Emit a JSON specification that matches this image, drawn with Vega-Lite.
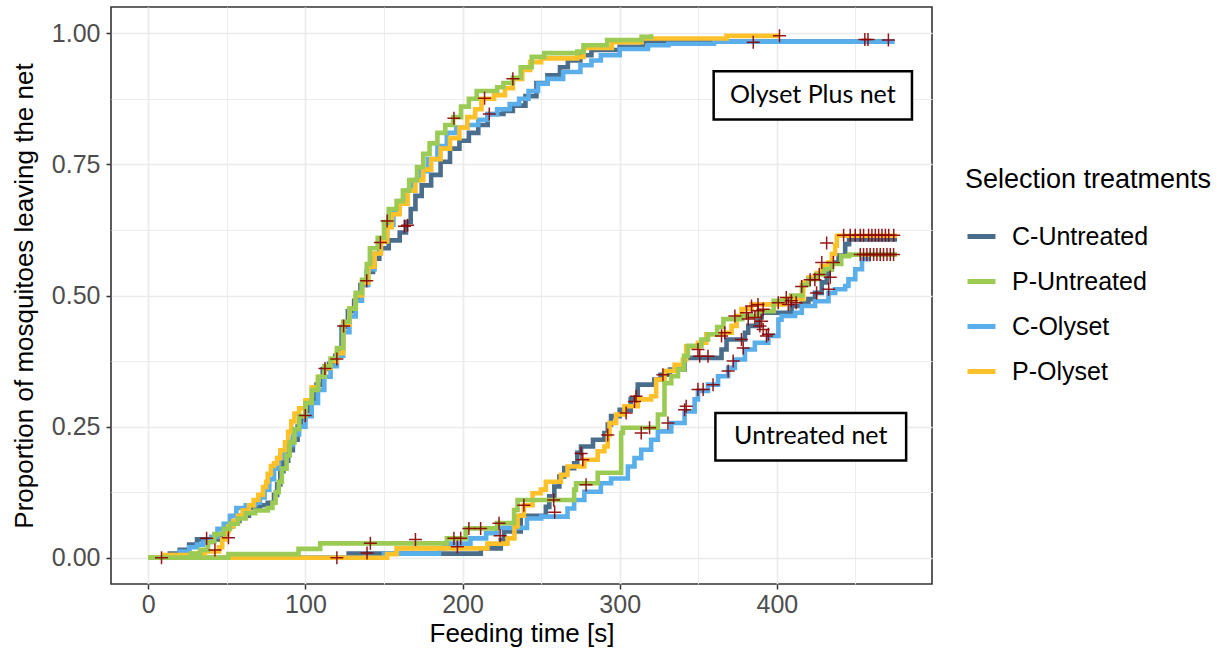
{
  "$schema": "https://vega.github.io/schema/vega-lite/v6.json",
  "width": 821,
  "height": 577,
  "autosize": {"type": "none"},
  "padding": {"left": 111, "top": 7, "right": 293, "bottom": 67},
  "background": "white",
  "datasets": {
    "curves": [
      {"trt":"C-Untreated","net":"O","t":0,"p":0},{"trt":"C-Untreated","net":"O","t":13.7,"p":0.008},{"trt":"C-Untreated","net":"O","t":20,"p":0.015},{"trt":"C-Untreated","net":"O","t":26,"p":0.025},{"trt":"C-Untreated","net":"O","t":31,"p":0.035},{"trt":"C-Untreated","net":"O","t":47,"p":0.045},{"trt":"C-Untreated","net":"O","t":50,"p":0.06},{"trt":"C-Untreated","net":"O","t":54,"p":0.07},{"trt":"C-Untreated","net":"O","t":58,"p":0.08},{"trt":"C-Untreated","net":"O","t":64,"p":0.095},{"trt":"C-Untreated","net":"O","t":71,"p":0.1},{"trt":"C-Untreated","net":"O","t":76,"p":0.105},{"trt":"C-Untreated","net":"O","t":80,"p":0.12},{"trt":"C-Untreated","net":"O","t":82,"p":0.14},{"trt":"C-Untreated","net":"O","t":84,"p":0.165},{"trt":"C-Untreated","net":"O","t":86,"p":0.185},{"trt":"C-Untreated","net":"O","t":89,"p":0.205},{"trt":"C-Untreated","net":"O","t":92,"p":0.225},{"trt":"C-Untreated","net":"O","t":95,"p":0.25},{"trt":"C-Untreated","net":"O","t":97,"p":0.265},{"trt":"C-Untreated","net":"O","t":100,"p":0.28},{"trt":"C-Untreated","net":"O","t":103,"p":0.3},{"trt":"C-Untreated","net":"O","t":107,"p":0.33},{"trt":"C-Untreated","net":"O","t":111,"p":0.36},{"trt":"C-Untreated","net":"O","t":115,"p":0.37},{"trt":"C-Untreated","net":"O","t":119,"p":0.385},{"trt":"C-Untreated","net":"O","t":123,"p":0.44},{"trt":"C-Untreated","net":"O","t":127,"p":0.47},{"trt":"C-Untreated","net":"O","t":131,"p":0.49},{"trt":"C-Untreated","net":"O","t":135,"p":0.52},{"trt":"C-Untreated","net":"O","t":139,"p":0.545},{"trt":"C-Untreated","net":"O","t":143,"p":0.57},{"trt":"C-Untreated","net":"O","t":147,"p":0.59},{"trt":"C-Untreated","net":"O","t":153,"p":0.605},{"trt":"C-Untreated","net":"O","t":160,"p":0.62},{"trt":"C-Untreated","net":"O","t":164,"p":0.64},{"trt":"C-Untreated","net":"O","t":167,"p":0.665},{"trt":"C-Untreated","net":"O","t":170,"p":0.69},{"trt":"C-Untreated","net":"O","t":174,"p":0.71},{"trt":"C-Untreated","net":"O","t":180,"p":0.73},{"trt":"C-Untreated","net":"O","t":186,"p":0.755},{"trt":"C-Untreated","net":"O","t":192,"p":0.78},{"trt":"C-Untreated","net":"O","t":198,"p":0.795},{"trt":"C-Untreated","net":"O","t":204,"p":0.81},{"trt":"C-Untreated","net":"O","t":210,"p":0.825},{"trt":"C-Untreated","net":"O","t":216,"p":0.846},{"trt":"C-Untreated","net":"O","t":226,"p":0.852},{"trt":"C-Untreated","net":"O","t":232,"p":0.862},{"trt":"C-Untreated","net":"O","t":240,"p":0.88},{"trt":"C-Untreated","net":"O","t":247,"p":0.905},{"trt":"C-Untreated","net":"O","t":254,"p":0.92},{"trt":"C-Untreated","net":"O","t":262,"p":0.935},{"trt":"C-Untreated","net":"O","t":267,"p":0.948},{"trt":"C-Untreated","net":"O","t":275,"p":0.958},{"trt":"C-Untreated","net":"O","t":282,"p":0.968},{"trt":"C-Untreated","net":"O","t":300,"p":0.974},{"trt":"C-Untreated","net":"O","t":315,"p":0.984},{"trt":"C-Untreated","net":"O","t":471,"p":0.984},

      {"trt":"C-Untreated","net":"U","t":0,"p":0},{"trt":"C-Untreated","net":"U","t":127.5,"p":0.008},{"trt":"C-Untreated","net":"U","t":211.6,"p":0.018},{"trt":"C-Untreated","net":"U","t":224.3,"p":0.034},{"trt":"C-Untreated","net":"U","t":226.4,"p":0.05},{"trt":"C-Untreated","net":"U","t":237,"p":0.08},{"trt":"C-Untreated","net":"U","t":253,"p":0.097},{"trt":"C-Untreated","net":"U","t":255.2,"p":0.117},{"trt":"C-Untreated","net":"U","t":258.4,"p":0.136},{"trt":"C-Untreated","net":"U","t":261.6,"p":0.155},{"trt":"C-Untreated","net":"U","t":264.7,"p":0.171},{"trt":"C-Untreated","net":"U","t":271,"p":0.18},{"trt":"C-Untreated","net":"U","t":273,"p":0.2},{"trt":"C-Untreated","net":"U","t":275.4,"p":0.212},{"trt":"C-Untreated","net":"U","t":283,"p":0.225},{"trt":"C-Untreated","net":"U","t":290.3,"p":0.238},{"trt":"C-Untreated","net":"U","t":292.4,"p":0.254},{"trt":"C-Untreated","net":"U","t":294.5,"p":0.27},{"trt":"C-Untreated","net":"U","t":300,"p":0.282},{"trt":"C-Untreated","net":"U","t":307,"p":0.302},{"trt":"C-Untreated","net":"U","t":311.5,"p":0.33},{"trt":"C-Untreated","net":"U","t":322,"p":0.34},{"trt":"C-Untreated","net":"U","t":326,"p":0.349},{"trt":"C-Untreated","net":"U","t":332,"p":0.359},{"trt":"C-Untreated","net":"U","t":341.3,"p":0.381},{"trt":"C-Untreated","net":"U","t":364.8,"p":0.397},{"trt":"C-Untreated","net":"U","t":368,"p":0.416},{"trt":"C-Untreated","net":"U","t":379.7,"p":0.429},{"trt":"C-Untreated","net":"U","t":381.8,"p":0.442},{"trt":"C-Untreated","net":"U","t":388.1,"p":0.458},{"trt":"C-Untreated","net":"U","t":390.3,"p":0.467},{"trt":"C-Untreated","net":"U","t":409.4,"p":0.48},{"trt":"C-Untreated","net":"U","t":415.9,"p":0.486},{"trt":"C-Untreated","net":"U","t":420.1,"p":0.493},{"trt":"C-Untreated","net":"U","t":424.3,"p":0.505},{"trt":"C-Untreated","net":"U","t":428.6,"p":0.525},{"trt":"C-Untreated","net":"U","t":431.8,"p":0.537},{"trt":"C-Untreated","net":"U","t":432.9,"p":0.55},{"trt":"C-Untreated","net":"U","t":435,"p":0.563},{"trt":"C-Untreated","net":"U","t":439.3,"p":0.576},{"trt":"C-Untreated","net":"U","t":443.5,"p":0.598},{"trt":"C-Untreated","net":"U","t":446,"p":0.607},{"trt":"C-Untreated","net":"U","t":476.5,"p":0.607},

      {"trt":"C-Olyset","net":"O","t":0,"p":0},{"trt":"C-Olyset","net":"O","t":15,"p":0.005},{"trt":"C-Olyset","net":"O","t":20,"p":0.012},{"trt":"C-Olyset","net":"O","t":26,"p":0.02},{"trt":"C-Olyset","net":"O","t":31,"p":0.025},{"trt":"C-Olyset","net":"O","t":35,"p":0.03},{"trt":"C-Olyset","net":"O","t":40,"p":0.04},{"trt":"C-Olyset","net":"O","t":44,"p":0.055},{"trt":"C-Olyset","net":"O","t":48,"p":0.065},{"trt":"C-Olyset","net":"O","t":52,"p":0.08},{"trt":"C-Olyset","net":"O","t":56,"p":0.095},{"trt":"C-Olyset","net":"O","t":62,"p":0.1},{"trt":"C-Olyset","net":"O","t":68,"p":0.105},{"trt":"C-Olyset","net":"O","t":71,"p":0.115},{"trt":"C-Olyset","net":"O","t":74,"p":0.13},{"trt":"C-Olyset","net":"O","t":77,"p":0.15},{"trt":"C-Olyset","net":"O","t":80,"p":0.17},{"trt":"C-Olyset","net":"O","t":83,"p":0.19},{"trt":"C-Olyset","net":"O","t":86,"p":0.205},{"trt":"C-Olyset","net":"O","t":89,"p":0.215},{"trt":"C-Olyset","net":"O","t":92,"p":0.235},{"trt":"C-Olyset","net":"O","t":96,"p":0.25},{"trt":"C-Olyset","net":"O","t":100,"p":0.27},{"trt":"C-Olyset","net":"O","t":104,"p":0.295},{"trt":"C-Olyset","net":"O","t":108,"p":0.32},{"trt":"C-Olyset","net":"O","t":112,"p":0.345},{"trt":"C-Olyset","net":"O","t":116,"p":0.365},{"trt":"C-Olyset","net":"O","t":120,"p":0.385},{"trt":"C-Olyset","net":"O","t":124,"p":0.43},{"trt":"C-Olyset","net":"O","t":128,"p":0.46},{"trt":"C-Olyset","net":"O","t":132,"p":0.49},{"trt":"C-Olyset","net":"O","t":136,"p":0.52},{"trt":"C-Olyset","net":"O","t":140,"p":0.55},{"trt":"C-Olyset","net":"O","t":144,"p":0.58},{"trt":"C-Olyset","net":"O","t":148,"p":0.605},{"trt":"C-Olyset","net":"O","t":152,"p":0.635},{"trt":"C-Olyset","net":"O","t":156,"p":0.66},{"trt":"C-Olyset","net":"O","t":160,"p":0.68},{"trt":"C-Olyset","net":"O","t":164,"p":0.7},{"trt":"C-Olyset","net":"O","t":168,"p":0.72},{"trt":"C-Olyset","net":"O","t":172,"p":0.737},{"trt":"C-Olyset","net":"O","t":178,"p":0.76},{"trt":"C-Olyset","net":"O","t":184,"p":0.785},{"trt":"C-Olyset","net":"O","t":190,"p":0.81},{"trt":"C-Olyset","net":"O","t":196,"p":0.82},{"trt":"C-Olyset","net":"O","t":203,"p":0.825},{"trt":"C-Olyset","net":"O","t":210,"p":0.835},{"trt":"C-Olyset","net":"O","t":216,"p":0.845},{"trt":"C-Olyset","net":"O","t":222,"p":0.855},{"trt":"C-Olyset","net":"O","t":230,"p":0.865},{"trt":"C-Olyset","net":"O","t":236,"p":0.875},{"trt":"C-Olyset","net":"O","t":242,"p":0.89},{"trt":"C-Olyset","net":"O","t":248,"p":0.904},{"trt":"C-Olyset","net":"O","t":254,"p":0.913},{"trt":"C-Olyset","net":"O","t":264,"p":0.926},{"trt":"C-Olyset","net":"O","t":275,"p":0.939},{"trt":"C-Olyset","net":"O","t":282,"p":0.948},{"trt":"C-Olyset","net":"O","t":288,"p":0.958},{"trt":"C-Olyset","net":"O","t":300,"p":0.97},{"trt":"C-Olyset","net":"O","t":318,"p":0.977},{"trt":"C-Olyset","net":"O","t":331,"p":0.98},{"trt":"C-Olyset","net":"O","t":360,"p":0.984},{"trt":"C-Olyset","net":"O","t":475,"p":0.984},

      {"trt":"C-Olyset","net":"U","t":0,"p":0},{"trt":"C-Olyset","net":"U","t":150,"p":0.008},{"trt":"C-Olyset","net":"U","t":185,"p":0.018},{"trt":"C-Olyset","net":"U","t":188,"p":0.027},{"trt":"C-Olyset","net":"U","t":205,"p":0.037},{"trt":"C-Olyset","net":"U","t":215,"p":0.047},{"trt":"C-Olyset","net":"U","t":222,"p":0.057},{"trt":"C-Olyset","net":"U","t":241,"p":0.075},{"trt":"C-Olyset","net":"U","t":250,"p":0.0785},{"trt":"C-Olyset","net":"U","t":266.8,"p":0.094},{"trt":"C-Olyset","net":"U","t":271,"p":0.11},{"trt":"C-Olyset","net":"U","t":277.5,"p":0.126},{"trt":"C-Olyset","net":"U","t":288,"p":0.142},{"trt":"C-Olyset","net":"U","t":294.5,"p":0.151},{"trt":"C-Olyset","net":"U","t":305.2,"p":0.174},{"trt":"C-Olyset","net":"U","t":309.4,"p":0.19},{"trt":"C-Olyset","net":"U","t":313.7,"p":0.206},{"trt":"C-Olyset","net":"U","t":320,"p":0.225},{"trt":"C-Olyset","net":"U","t":324.3,"p":0.241},{"trt":"C-Olyset","net":"U","t":332.8,"p":0.257},{"trt":"C-Olyset","net":"U","t":341.3,"p":0.279},{"trt":"C-Olyset","net":"U","t":347.7,"p":0.302},{"trt":"C-Olyset","net":"U","t":349.8,"p":0.318},{"trt":"C-Olyset","net":"U","t":356.2,"p":0.33},{"trt":"C-Olyset","net":"U","t":362.6,"p":0.346},{"trt":"C-Olyset","net":"U","t":369,"p":0.362},{"trt":"C-Olyset","net":"U","t":373.3,"p":0.378},{"trt":"C-Olyset","net":"U","t":379.7,"p":0.397},{"trt":"C-Olyset","net":"U","t":386,"p":0.41},{"trt":"C-Olyset","net":"U","t":394.6,"p":0.423},{"trt":"C-Olyset","net":"U","t":401,"p":0.454},{"trt":"C-Olyset","net":"U","t":403,"p":0.461},{"trt":"C-Olyset","net":"U","t":411.6,"p":0.467},{"trt":"C-Olyset","net":"U","t":415.9,"p":0.48},{"trt":"C-Olyset","net":"U","t":424.3,"p":0.489},{"trt":"C-Olyset","net":"U","t":432.9,"p":0.505},{"trt":"C-Olyset","net":"U","t":437.1,"p":0.512},{"trt":"C-Olyset","net":"U","t":443.5,"p":0.518},{"trt":"C-Olyset","net":"U","t":445.6,"p":0.531},{"trt":"C-Olyset","net":"U","t":449.9,"p":0.55},{"trt":"C-Olyset","net":"U","t":454.2,"p":0.569},{"trt":"C-Olyset","net":"U","t":458.5,"p":0.578},{"trt":"C-Olyset","net":"U","t":476.5,"p":0.578},

      {"trt":"P-Olyset","net":"O","t":0,"p":0},{"trt":"P-Olyset","net":"O","t":10,"p":0.005},{"trt":"P-Olyset","net":"O","t":28,"p":0.008},{"trt":"P-Olyset","net":"O","t":36,"p":0.012},{"trt":"P-Olyset","net":"O","t":45,"p":0.02},{"trt":"P-Olyset","net":"O","t":47,"p":0.035},{"trt":"P-Olyset","net":"O","t":49,"p":0.05},{"trt":"P-Olyset","net":"O","t":51,"p":0.06},{"trt":"P-Olyset","net":"O","t":54,"p":0.07},{"trt":"P-Olyset","net":"O","t":57,"p":0.08},{"trt":"P-Olyset","net":"O","t":60,"p":0.09},{"trt":"P-Olyset","net":"O","t":64,"p":0.1},{"trt":"P-Olyset","net":"O","t":67,"p":0.11},{"trt":"P-Olyset","net":"O","t":70,"p":0.12},{"trt":"P-Olyset","net":"O","t":73,"p":0.135},{"trt":"P-Olyset","net":"O","t":75,"p":0.145},{"trt":"P-Olyset","net":"O","t":76,"p":0.16},{"trt":"P-Olyset","net":"O","t":78,"p":0.175},{"trt":"P-Olyset","net":"O","t":80,"p":0.18},{"trt":"P-Olyset","net":"O","t":82,"p":0.19},{"trt":"P-Olyset","net":"O","t":84,"p":0.205},{"trt":"P-Olyset","net":"O","t":87,"p":0.22},{"trt":"P-Olyset","net":"O","t":89,"p":0.24},{"trt":"P-Olyset","net":"O","t":91,"p":0.26},{"trt":"P-Olyset","net":"O","t":93,"p":0.275},{"trt":"P-Olyset","net":"O","t":96,"p":0.285},{"trt":"P-Olyset","net":"O","t":100,"p":0.3},{"trt":"P-Olyset","net":"O","t":104,"p":0.325},{"trt":"P-Olyset","net":"O","t":108,"p":0.345},{"trt":"P-Olyset","net":"O","t":112,"p":0.362},{"trt":"P-Olyset","net":"O","t":116,"p":0.375},{"trt":"P-Olyset","net":"O","t":120,"p":0.39},{"trt":"P-Olyset","net":"O","t":124,"p":0.445},{"trt":"P-Olyset","net":"O","t":128,"p":0.475},{"trt":"P-Olyset","net":"O","t":132,"p":0.5},{"trt":"P-Olyset","net":"O","t":136,"p":0.525},{"trt":"P-Olyset","net":"O","t":140,"p":0.555},{"trt":"P-Olyset","net":"O","t":144,"p":0.58},{"trt":"P-Olyset","net":"O","t":148,"p":0.603},{"trt":"P-Olyset","net":"O","t":152,"p":0.63},{"trt":"P-Olyset","net":"O","t":155,"p":0.655},{"trt":"P-Olyset","net":"O","t":160,"p":0.675},{"trt":"P-Olyset","net":"O","t":165,"p":0.7},{"trt":"P-Olyset","net":"O","t":170,"p":0.72},{"trt":"P-Olyset","net":"O","t":175,"p":0.74},{"trt":"P-Olyset","net":"O","t":180,"p":0.76},{"trt":"P-Olyset","net":"O","t":186,"p":0.78},{"trt":"P-Olyset","net":"O","t":192,"p":0.8},{"trt":"P-Olyset","net":"O","t":198,"p":0.82},{"trt":"P-Olyset","net":"O","t":203,"p":0.84},{"trt":"P-Olyset","net":"O","t":208,"p":0.855},{"trt":"P-Olyset","net":"O","t":212,"p":0.875},{"trt":"P-Olyset","net":"O","t":220,"p":0.882},{"trt":"P-Olyset","net":"O","t":227,"p":0.895},{"trt":"P-Olyset","net":"O","t":232,"p":0.913},{"trt":"P-Olyset","net":"O","t":238,"p":0.93},{"trt":"P-Olyset","net":"O","t":243,"p":0.945},{"trt":"P-Olyset","net":"O","t":250,"p":0.952},{"trt":"P-Olyset","net":"O","t":273,"p":0.955},{"trt":"P-Olyset","net":"O","t":277,"p":0.972},{"trt":"P-Olyset","net":"O","t":295,"p":0.983},{"trt":"P-Olyset","net":"O","t":314,"p":0.99},{"trt":"P-Olyset","net":"O","t":368,"p":0.995},{"trt":"P-Olyset","net":"O","t":402,"p":0.995},

      {"trt":"P-Olyset","net":"U","t":0,"p":0},{"trt":"P-Olyset","net":"U","t":152,"p":0.007},{"trt":"P-Olyset","net":"U","t":158,"p":0.018},{"trt":"P-Olyset","net":"U","t":215.8,"p":0.027},{"trt":"P-Olyset","net":"U","t":228.6,"p":0.037},{"trt":"P-Olyset","net":"U","t":233,"p":0.06},{"trt":"P-Olyset","net":"U","t":235,"p":0.08},{"trt":"P-Olyset","net":"U","t":239,"p":0.1},{"trt":"P-Olyset","net":"U","t":244.5,"p":0.123},{"trt":"P-Olyset","net":"U","t":249.8,"p":0.13},{"trt":"P-Olyset","net":"U","t":253,"p":0.145},{"trt":"P-Olyset","net":"U","t":262.6,"p":0.158},{"trt":"P-Olyset","net":"U","t":266.8,"p":0.174},{"trt":"P-Olyset","net":"U","t":277.5,"p":0.187},{"trt":"P-Olyset","net":"U","t":286,"p":0.203},{"trt":"P-Olyset","net":"U","t":290.3,"p":0.212},{"trt":"P-Olyset","net":"U","t":292.4,"p":0.234},{"trt":"P-Olyset","net":"U","t":293.5,"p":0.257},{"trt":"P-Olyset","net":"U","t":297.7,"p":0.273},{"trt":"P-Olyset","net":"U","t":303,"p":0.289},{"trt":"P-Olyset","net":"U","t":311.5,"p":0.302},{"trt":"P-Olyset","net":"U","t":320,"p":0.308},{"trt":"P-Olyset","net":"U","t":323.2,"p":0.34},{"trt":"P-Olyset","net":"U","t":328.5,"p":0.356},{"trt":"P-Olyset","net":"U","t":334.9,"p":0.368},{"trt":"P-Olyset","net":"U","t":340.2,"p":0.378},{"trt":"P-Olyset","net":"U","t":342.3,"p":0.403},{"trt":"P-Olyset","net":"U","t":349.8,"p":0.41},{"trt":"P-Olyset","net":"U","t":355.1,"p":0.426},{"trt":"P-Olyset","net":"U","t":365.8,"p":0.429},{"trt":"P-Olyset","net":"U","t":371.2,"p":0.442},{"trt":"P-Olyset","net":"U","t":374.4,"p":0.461},{"trt":"P-Olyset","net":"U","t":377.5,"p":0.474},{"trt":"P-Olyset","net":"U","t":383.9,"p":0.483},{"trt":"P-Olyset","net":"U","t":405,"p":0.493},{"trt":"P-Olyset","net":"U","t":416.8,"p":0.524},{"trt":"P-Olyset","net":"U","t":420,"p":0.534},{"trt":"P-Olyset","net":"U","t":425.4,"p":0.543},{"trt":"P-Olyset","net":"U","t":428.6,"p":0.556},{"trt":"P-Olyset","net":"U","t":432.9,"p":0.563},{"trt":"P-Olyset","net":"U","t":435,"p":0.579},{"trt":"P-Olyset","net":"U","t":437.1,"p":0.595},{"trt":"P-Olyset","net":"U","t":438.2,"p":0.614},{"trt":"P-Olyset","net":"U","t":476.5,"p":0.614},

      {"trt":"P-Untreated","net":"O","t":0,"p":0},{"trt":"P-Untreated","net":"O","t":27,"p":0.008},{"trt":"P-Untreated","net":"O","t":33,"p":0.015},{"trt":"P-Untreated","net":"O","t":38,"p":0.03},{"trt":"P-Untreated","net":"O","t":42,"p":0.045},{"trt":"P-Untreated","net":"O","t":48,"p":0.055},{"trt":"P-Untreated","net":"O","t":52,"p":0.065},{"trt":"P-Untreated","net":"O","t":57,"p":0.075},{"trt":"P-Untreated","net":"O","t":62,"p":0.085},{"trt":"P-Untreated","net":"O","t":68,"p":0.09},{"trt":"P-Untreated","net":"O","t":76,"p":0.095},{"trt":"P-Untreated","net":"O","t":79,"p":0.105},{"trt":"P-Untreated","net":"O","t":81,"p":0.125},{"trt":"P-Untreated","net":"O","t":83,"p":0.145},{"trt":"P-Untreated","net":"O","t":85,"p":0.17},{"trt":"P-Untreated","net":"O","t":88,"p":0.195},{"trt":"P-Untreated","net":"O","t":90,"p":0.22},{"trt":"P-Untreated","net":"O","t":93,"p":0.245},{"trt":"P-Untreated","net":"O","t":96,"p":0.27},{"trt":"P-Untreated","net":"O","t":100,"p":0.295},{"trt":"P-Untreated","net":"O","t":104,"p":0.32},{"trt":"P-Untreated","net":"O","t":108,"p":0.345},{"trt":"P-Untreated","net":"O","t":112,"p":0.365},{"trt":"P-Untreated","net":"O","t":116,"p":0.38},{"trt":"P-Untreated","net":"O","t":120,"p":0.4},{"trt":"P-Untreated","net":"O","t":124,"p":0.45},{"trt":"P-Untreated","net":"O","t":128,"p":0.475},{"trt":"P-Untreated","net":"O","t":132,"p":0.505},{"trt":"P-Untreated","net":"O","t":136,"p":0.53},{"trt":"P-Untreated","net":"O","t":139,"p":0.56},{"trt":"P-Untreated","net":"O","t":141,"p":0.59},{"trt":"P-Untreated","net":"O","t":146,"p":0.61},{"trt":"P-Untreated","net":"O","t":150,"p":0.64},{"trt":"P-Untreated","net":"O","t":153,"p":0.665},{"trt":"P-Untreated","net":"O","t":158,"p":0.68},{"trt":"P-Untreated","net":"O","t":162,"p":0.7},{"trt":"P-Untreated","net":"O","t":166,"p":0.72},{"trt":"P-Untreated","net":"O","t":171,"p":0.745},{"trt":"P-Untreated","net":"O","t":175,"p":0.77},{"trt":"P-Untreated","net":"O","t":179,"p":0.79},{"trt":"P-Untreated","net":"O","t":184,"p":0.81},{"trt":"P-Untreated","net":"O","t":189,"p":0.825},{"trt":"P-Untreated","net":"O","t":194,"p":0.84},{"trt":"P-Untreated","net":"O","t":199,"p":0.86},{"trt":"P-Untreated","net":"O","t":204,"p":0.875},{"trt":"P-Untreated","net":"O","t":209,"p":0.89},{"trt":"P-Untreated","net":"O","t":222,"p":0.897},{"trt":"P-Untreated","net":"O","t":226,"p":0.905},{"trt":"P-Untreated","net":"O","t":232,"p":0.915},{"trt":"P-Untreated","net":"O","t":237,"p":0.935},{"trt":"P-Untreated","net":"O","t":244,"p":0.955},{"trt":"P-Untreated","net":"O","t":252,"p":0.962},{"trt":"P-Untreated","net":"O","t":273,"p":0.965},{"trt":"P-Untreated","net":"O","t":277,"p":0.977},{"trt":"P-Untreated","net":"O","t":292,"p":0.987},{"trt":"P-Untreated","net":"O","t":314,"p":0.993},{"trt":"P-Untreated","net":"O","t":320,"p":0.998},

      {"trt":"P-Untreated","net":"U","t":0,"p":0},{"trt":"P-Untreated","net":"U","t":51,"p":0.007},{"trt":"P-Untreated","net":"U","t":95.6,"p":0.017},{"trt":"P-Untreated","net":"U","t":109.4,"p":0.0275},{"trt":"P-Untreated","net":"U","t":190,"p":0.037},{"trt":"P-Untreated","net":"U","t":202,"p":0.056},{"trt":"P-Untreated","net":"U","t":222,"p":0.066},{"trt":"P-Untreated","net":"U","t":232.8,"p":0.091},{"trt":"P-Untreated","net":"U","t":235,"p":0.11},{"trt":"P-Untreated","net":"U","t":271,"p":0.13},{"trt":"P-Untreated","net":"U","t":272.2,"p":0.142},{"trt":"P-Untreated","net":"U","t":286,"p":0.162},{"trt":"P-Untreated","net":"U","t":300.9,"p":0.238},{"trt":"P-Untreated","net":"U","t":302,"p":0.248},{"trt":"P-Untreated","net":"U","t":324.3,"p":0.273},{"trt":"P-Untreated","net":"U","t":328.5,"p":0.333},{"trt":"P-Untreated","net":"U","t":332.8,"p":0.346},{"trt":"P-Untreated","net":"U","t":337.1,"p":0.359},{"trt":"P-Untreated","net":"U","t":341,"p":0.385},{"trt":"P-Untreated","net":"U","t":343.4,"p":0.404},{"trt":"P-Untreated","net":"U","t":352,"p":0.416},{"trt":"P-Untreated","net":"U","t":356.2,"p":0.426},{"trt":"P-Untreated","net":"U","t":362,"p":0.44},{"trt":"P-Untreated","net":"U","t":366,"p":0.455},{"trt":"P-Untreated","net":"U","t":378,"p":0.461},{"trt":"P-Untreated","net":"U","t":388,"p":0.47},{"trt":"P-Untreated","net":"U","t":398,"p":0.49},{"trt":"P-Untreated","net":"U","t":409,"p":0.5},{"trt":"P-Untreated","net":"U","t":416,"p":0.52},{"trt":"P-Untreated","net":"U","t":420,"p":0.531},{"trt":"P-Untreated","net":"U","t":425,"p":0.54},{"trt":"P-Untreated","net":"U","t":430,"p":0.55},{"trt":"P-Untreated","net":"U","t":435,"p":0.56},{"trt":"P-Untreated","net":"U","t":441,"p":0.575},{"trt":"P-Untreated","net":"U","t":446,"p":0.578},{"trt":"P-Untreated","net":"U","t":476.5,"p":0.578}
    ],
    "censors": [
      {"t":8.4,"p":0},{"t":37.1,"p":0.037},{"t":42.4,"p":0.015},{"t":51,"p":0.038},{"t":99.9,"p":0.271},{"t":112.4,"p":0.361},{"t":120,"p":0.379},{"t":124.3,"p":0.442},{"t":139,"p":0.528},{"t":147.7,"p":0.601},{"t":152,"p":0.642},{"t":163,"p":0.632},{"t":165,"p":0.634},{"t":194.5,"p":0.838},{"t":214,"p":0.876},{"t":217,"p":0.846},{"t":232,"p":0.913},{"t":385,"p":0.983},{"t":401.7,"p":0.995},{"t":456,"p":0.988},{"t":458,"p":0.988},{"t":471,"p":0.987},
      {"t":120,"p":0},{"t":139.2,"p":0.009},{"t":141.3,"p":0.0275},{"t":170,"p":0.035},{"t":194.5,"p":0.037},{"t":198.8,"p":0.037},{"t":196.7,"p":0.021},{"t":204,"p":0.056},{"t":211.5,"p":0.056},{"t":223.2,"p":0.066},{"t":223.9,"p":0.042},{"t":239,"p":0.1},{"t":258,"p":0.11},{"t":258.6,"p":0.087},{"t":278.6,"p":0.139},{"t":275.4,"p":0.199},{"t":276.5,"p":0.187},{"t":292.4,"p":0.234},{"t":304.1,"p":0.276},{"t":309.4,"p":0.298},{"t":310.4,"p":0.308},{"t":313.7,"p":0.238},{"t":319,"p":0.248},{"t":330.7,"p":0.257},{"t":327.5,"p":0.349},{"t":341.3,"p":0.282},{"t":342.3,"p":0.289},{"t":349.8,"p":0.321},{"t":353.1,"p":0.321},{"t":359.4,"p":0.33},{"t":349.8,"p":0.397},{"t":350.9,"p":0.384},{"t":356.2,"p":0.384},{"t":364.8,"p":0.423},{"t":366.9,"p":0.429},{"t":369,"p":0.356},{"t":372.2,"p":0.375},{"t":373.3,"p":0.461},{"t":377.5,"p":0.416},{"t":378.6,"p":0.4},{"t":380.7,"p":0.467},{"t":386,"p":0.458},{"t":388.1,"p":0.471},{"t":390.3,"p":0.451},{"t":391.3,"p":0.435},{"t":394.6,"p":0.426},{"t":388,"p":0.483},{"t":383.9,"p":0.48},{"t":391.3,"p":0.474},{"t":400.9,"p":0.486},{"t":406,"p":0.496},{"t":407.3,"p":0.483},{"t":409.2,"p":0.49},{"t":412.3,"p":0.486},{"t":381.8,"p":0.455},{"t":389.2,"p":0.442},{"t":393.4,"p":0.423},{"t":415.8,"p":0.517},{"t":421.2,"p":0.53},{"t":424.2,"p":0.53},{"t":425.3,"p":0.505},{"t":427,"p":0.54},{"t":428.6,"p":0.563},{"t":431.7,"p":0.6},{"t":433,"p":0.512},{"t":434,"p":0.535},{"t":436,"p":0.563},
      {"t":442.5,"p":0.615},{"t":446.7,"p":0.615},{"t":449.9,"p":0.615},{"t":453.1,"p":0.615},{"t":455.2,"p":0.615},{"t":458.4,"p":0.615},{"t":460.5,"p":0.615},{"t":462.7,"p":0.615},{"t":464.8,"p":0.615},{"t":466.9,"p":0.615},{"t":469.1,"p":0.615},{"t":471.2,"p":0.615},{"t":474.4,"p":0.615},
      {"t":453.1,"p":0.578},{"t":455.2,"p":0.578},{"t":457.3,"p":0.578},{"t":459.4,"p":0.578},{"t":461.6,"p":0.578},{"t":463.7,"p":0.578},{"t":465.8,"p":0.578},{"t":467.9,"p":0.578},{"t":470.1,"p":0.578},{"t":472.2,"p":0.578},{"t":474.3,"p":0.578}
    ],
    "notes": [
      {"label":"Olyset Plus net","t1":359.8,"t2":486,"p1":0.8356,"p2":0.9273,"tc":422.9,"pc":0.8815},
      {"label":"Untreated net","t1":360.9,"t2":482.3,"p1":0.1855,"p2":0.276,"tc":421.6,"pc":0.2314}
    ]
  },
  "layer": [
    {
      "data": {"name": "curves"},
      "mark": {"type": "line", "interpolate": "step-after", "strokeWidth": 4.6, "strokeJoin": "miter", "strokeCap": "butt"},
      "encoding": {
        "x": {"field": "t", "type": "quantitative", "title": "Feeding time [s]",
              "scale": {"domain": [-23.75, 498.75], "nice": false, "zero": false},
              "axis": {"values": [0,50,100,150,200,250,300,350,400,450],
                       "labelExpr": "datum.value % 100 === 0 ? datum.label : ''",
                       "tickOpacity": {"condition": {"test": "datum.value % 100 !== 0", "value": 0}, "value": 1},
                       "gridWidth": {"condition": {"test": "datum.value % 100 !== 0", "value": 0.9}, "value": 1.7},
                       "labelPadding": 3, "titlePadding": 3, "labelOverlap": false}},
        "y": {"field": "p", "type": "quantitative", "title": "Proportion of mosquitoes leaving the net",
              "scale": {"domain": [-0.05, 1.05], "nice": false, "zero": false},
              "axis": {"values": [0,0.125,0.25,0.375,0.5,0.625,0.75,0.875,1],
                       "labelExpr": "(datum.value*4) % 1 === 0 ? format(datum.value, '.2f') : ''",
                       "tickOpacity": {"condition": {"test": "(datum.value*4) % 1 !== 0", "value": 0}, "value": 1},
                       "gridWidth": {"condition": {"test": "(datum.value*4) % 1 !== 0", "value": 0.9}, "value": 1.7},
                       "labelPadding": 6, "titlePadding": 14, "labelOverlap": false}},
        "color": {"field": "trt", "type": "nominal",
                  "scale": {"domain": ["C-Untreated","P-Untreated","C-Olyset","P-Olyset"], "range": ["#4a6d8c","#9ccb55","#5aaeea","#ffc12a"]},
                  "legend": {"title": "Selection treatments", "orient": "none", "legendX": 854, "legendY": 160, "padding": 0,
                             "titleFont": "Liberation Sans", "titleFontSize": 27, "titleFontWeight": "normal", "titleColor": "#000000", "titlePadding": 26, "titleLimit": 500,
                             "labelFont": "Liberation Sans", "labelFontSize": 25, "labelColor": "#000000", "labelOffset": 14, "labelLimit": 400,
                             "symbolType": "stroke", "symbolSize": 784, "symbolStrokeWidth": 5, "rowPadding": 15}},
        "detail": {"field": "net", "type": "nominal"}
      }
    },
    {
      "data": {"name": "censors"},
      "mark": {"type": "point", "shape": "M-1,0L1,0M0,-1L0,1", "filled": false, "color": "#8b0000", "strokeWidth": 1.5, "size": 170, "opacity": 0.9},
      "encoding": {
        "x": {"field": "t", "type": "quantitative", "title": "Feeding time [s]"},
        "y": {"field": "p", "type": "quantitative", "title": "Proportion of mosquitoes leaving the net"}
      }
    },
    {
      "data": {"name": "notes"},
      "mark": {"type": "rect", "fill": "white", "stroke": "black", "strokeWidth": 2.5},
      "encoding": {
        "x": {"field": "t1", "type": "quantitative", "title": "Feeding time [s]"},
        "x2": {"field": "t2"},
        "y": {"field": "p1", "type": "quantitative", "title": "Proportion of mosquitoes leaving the net"},
        "y2": {"field": "p2"}
      }
    },
    {
      "data": {"name": "notes"},
      "mark": {"type": "text", "font": "Lato", "fontSize": 25, "color": "black", "align": "center", "baseline": "middle"},
      "encoding": {
        "x": {"field": "tc", "type": "quantitative", "title": "Feeding time [s]"},
        "y": {"field": "pc", "type": "quantitative", "title": "Proportion of mosquitoes leaving the net"},
        "text": {"field": "label"}
      }
    }
  ],
  "config": {
    "view": {"stroke": "#333333", "strokeWidth": 1.6},
    "axis": {"domain": false, "grid": true, "gridColor": "#ebebeb", "tickColor": "#333333", "tickSize": 5, "tickWidth": 1.5,
             "labelFont": "Liberation Sans", "labelFontSize": 25, "labelColor": "#4d4d4d",
             "titleFont": "Liberation Sans", "titleFontSize": 26, "titleFontWeight": "normal", "titleColor": "#000000"}
  }
}
